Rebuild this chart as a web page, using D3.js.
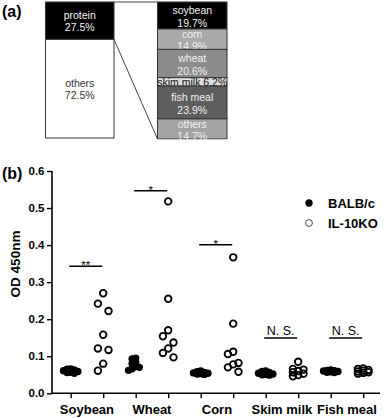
<!DOCTYPE html>
<html><head><meta charset="utf-8">
<script src="https://cdn.jsdelivr.net/npm/d3@7"></script>
<style>
html,body{margin:0;padding:0;background:#fff;}
svg{display:block;font-family:"Liberation Sans",Arial,sans-serif;}
</style></head>
<body><svg id="c" width="387" height="418"></svg>
<script>
// ---------- Panel (a) data ----------
const dietParts = ["protein", "others"];
const dietPct = [27.5, 72.5];
const proteinSources = ["soybean", "corn", "wheat", "skim milk", "fish meal", "others"];
const proteinPct = [19.7, 14.9, 20.6, 6.2, 23.9, 14.7];

// ---------- Panel (b) data ----------
const antigens = ["Soybean", "Wheat", "Corn", "Skim milk", "Fish meal"];
const strains = ["BALB/c", "IL-10KO"];
const balbValues = [
  [0.066, 0.065, 0.063, 0.061, 0.059, 0.057, 0.056, 0.054],
  [0.095, 0.093, 0.083, 0.080, 0.072, 0.070, 0.066, 0.062],
  [0.060, 0.058, 0.056, 0.055, 0.054, 0.053, 0.052, 0.051],
  [0.060, 0.059, 0.056, 0.054, 0.052, 0.051, 0.050, 0.049],
  [0.063, 0.062, 0.061, 0.060, 0.059, 0.058, 0.057, 0.056]
];
const il10Values = [
  [0.270, 0.242, 0.222, 0.158, 0.121, 0.117, 0.080, 0.061],
  [0.518, 0.255, 0.170, 0.154, 0.137, 0.121, 0.109, 0.097],
  [0.367, 0.188, 0.112, 0.106, 0.082, 0.078, 0.070, 0.058],
  [0.085, 0.066, 0.064, 0.060, 0.057, 0.053, 0.049, 0.046],
  [0.067, 0.066, 0.063, 0.061, 0.059, 0.057, 0.055, 0.053]
];
const sigLabels = ["**", "*", "*", "N. S.", "N. S."];
const sigLevels = [0.343, 0.547, 0.401, 0.149, 0.149];
const yTicks = [0.0, 0.1, 0.2, 0.3, 0.4, 0.5, 0.6];

const svg = d3.select("#c");

// ================= Panel (a) =================
const aFill = ["#000000", "#ffffff"];
const srcFill = ["#000000", "#a9a9a9", "#8c8c8c", "#dedede", "#5e5e5e", "#a3a3a3"];
const srcText = ["#f2f2f2", "#f2f2f2", "#f2f2f2", "#111111", "#f2f2f2", "#f2f2f2"];

svg.append("text").attr("x", 2).attr("y", 17).attr("font-size", 16).attr("font-weight", "bold").text("(a)");

const Lx0 = 45.5, Lx1 = 114, Rx0 = 157.5, Rx1 = 227;
const yL = d3.scaleLinear().domain([0, 100]).range([2, 138]);
const yR = d3.scaleLinear().domain([0, 100]).range([2, 139]);

let cum = 0;
const leftSegs = dietPct.map((p, i) => { const s = {name: dietParts[i], pct: p, a: cum, b: cum + p, i}; cum += p; return s; });
cum = 0;
const rightSegs = proteinPct.map((p, i) => { const s = {name: proteinSources[i], pct: p, a: cum, b: cum + p, i}; cum += p; return s; });

const gA = svg.append("g");
leftSegs.forEach(s => {
  gA.append("rect").attr("x", Lx0).attr("y", yL(s.a)).attr("width", Lx1 - Lx0).attr("height", yL(s.b) - yL(s.a))
    .attr("fill", aFill[s.i]).attr("stroke", "#333").attr("stroke-width", 1);
  const cy = (yL(s.a) + yL(s.b)) / 2;
  const col = s.i === 0 ? "#f2f2f2" : "#333";
  gA.append("text").attr("x", (Lx0 + Lx1) / 2).attr("y", cy - 6 + 4).attr("text-anchor", "middle")
    .attr("font-size", 10.5).attr("fill", col).text(s.name);
  gA.append("text").attr("x", (Lx0 + Lx1) / 2).attr("y", cy + 6 + 4).attr("text-anchor", "middle")
    .attr("font-size", 10.5).attr("fill", col).text(s.pct.toFixed(1) + "%");
});

// connector lines
gA.append("line").attr("x1", Lx1).attr("y1", yL(0)).attr("x2", Rx0).attr("y2", yR(0)).attr("stroke", "#444").attr("stroke-width", 1);
gA.append("line").attr("x1", Lx1).attr("y1", yL(dietPct[0])).attr("x2", Rx0).attr("y2", yR(100)).attr("stroke", "#444").attr("stroke-width", 1);

const defs = svg.append("defs");
defs.append("clipPath").attr("id", "rclip").append("rect")
  .attr("x", Rx0 - 1).attr("y", yR(0) - 1).attr("width", Rx1 - Rx0 + 6).attr("height", yR(100) - yR(0) + 1.5);
const gR = gA.append("g").attr("clip-path", "url(#rclip)");
rightSegs.forEach(s => {
  const t = yR(s.a), b = yR(s.b), cy = (t + b) / 2;
  gR.append("rect").attr("x", Rx0).attr("y", t).attr("width", Rx1 - Rx0).attr("height", b - t)
    .attr("fill", srcFill[s.i]).attr("stroke", "#333").attr("stroke-width", 1);
  const cx = (Rx0 + Rx1) / 2;
  if (s.pct < 10) {
    gR.append("text").attr("x", cx).attr("y", cy + 4).attr("text-anchor", "middle")
      .attr("font-size", 10.5).attr("fill", srcText[s.i]).text(s.name + " " + s.pct.toFixed(1) + "%");
  } else {
    gR.append("text").attr("x", cx).attr("y", cy - 5.3 + 4).attr("text-anchor", "middle")
      .attr("font-size", 10.5).attr("fill", srcText[s.i]).text(s.name);
    gR.append("text").attr("x", cx).attr("y", cy + 7.2 + 4).attr("text-anchor", "middle")
      .attr("font-size", 10.5).attr("fill", srcText[s.i]).text(s.pct.toFixed(1) + "%");
  }
});

// ================= Panel (b) =================
svg.append("text").attr("x", 2).attr("y", 179).attr("font-size", 16).attr("font-weight", "bold").text("(b)");

const keys = [];
antigens.forEach(a => strains.forEach(s => keys.push(a + "|" + s)));
const x = d3.scalePoint().domain(keys).range([70.7, 363.2]);
const y = d3.scaleLinear().domain([0, 0.6]).range([393.3, 171]);
const axisX0 = 52, axisX1 = 380;

// Y axis
const yAxis = d3.axisLeft(y).tickValues(yTicks).tickFormat(d3.format(".1f")).tickSize(5).tickSizeOuter(0);
const gy = svg.append("g").attr("transform", `translate(${axisX0},0)`).call(yAxis);
gy.select(".domain").attr("stroke", "#000").attr("stroke-width", 1.6).attr("d", `M0,${y(0)}V${y(0.6)}`);
gy.selectAll(".tick line").attr("stroke", "#000").attr("stroke-width", 1.4);
gy.selectAll(".tick text").attr("font-size", 11.5).attr("font-weight", "bold").attr("fill", "#000")
  .attr("font-family", '"Liberation Sans",Arial,sans-serif').attr("x", -7.5);

// X axis
const xAxis = d3.axisBottom(x).tickSize(5).tickFormat("").tickSizeOuter(0);
const gx = svg.append("g").attr("transform", `translate(0,${y(0)})`).call(xAxis);
gx.select(".domain").attr("stroke", "#000").attr("stroke-width", 1.6).attr("d", `M${axisX0},0H${axisX1}`);
gx.selectAll(".tick line").attr("stroke", "#000").attr("stroke-width", 1.4);

antigens.forEach(a => {
  const cx = (x(a + "|" + strains[0]) + x(a + "|" + strains[1])) / 2;
  svg.append("text").attr("x", cx).attr("y", 414).attr("text-anchor", "middle")
    .attr("font-size", 13).attr("font-weight", "bold").text(a);
});

svg.append("text").attr("transform", "translate(19.5,264) rotate(-90)").attr("text-anchor", "middle")
  .attr("font-size", 13.5).attr("font-weight", "bold").text("OD 450nm");

// swarm layout: offsets computed from values
function swarm(values, step, H, maxCol) {
  const order = values.map((v, i) => i).sort((a, b) => values[b] - values[a]);
  const cands = [0];
  for (let k = 1; k <= maxCol; k++) { cands.push(-k, k); }
  const placed = [];
  const off = new Array(values.length).fill(0);
  order.forEach(i => {
    const py = y(values[i]);
    let best = null, bestGap = -1;
    for (const c of cands) {
      const same = placed.filter(p => p.c === c);
      const gap = same.length ? d3.min(same, p => Math.abs(p.py - py)) : Infinity;
      if (gap >= H) { best = c; break; }
      if (gap > bestGap) { bestGap = gap; best = c; }
    }
    placed.push({c: best, py});
    off[i] = best * step;
  });
  return off;
}

const gDots = svg.append("g");
antigens.forEach((a, ai) => {
  const xb = x(a + "|" + strains[0]);
  const ob = swarm(balbValues[ai], 3.6, 4, 2);
  gDots.selectAll(null).data(balbValues[ai]).enter().append("circle")
    .attr("cx", (d, i) => xb + ob[i]).attr("cy", d => y(d)).attr("r", 3.7).attr("fill", "#000");
  const xi = x(a + "|" + strains[1]);
  const oi = swarm(il10Values[ai], 5.3, 19, 1);
  gDots.selectAll(null).data(il10Values[ai]).enter().append("circle")
    .attr("cx", (d, i) => xi + oi[i]).attr("cy", d => y(d)).attr("r", 3.3)
    .attr("fill", "none").attr("stroke", "#000").attr("stroke-width", 1.8);
});

// significance bars
antigens.forEach((a, ai) => {
  const x1 = x(a + "|" + strains[0]) - 1.5, x2 = x(a + "|" + strains[1]) - 1;
  const ly = y(sigLevels[ai]);
  svg.append("line").attr("x1", x1).attr("x2", x2).attr("y1", ly).attr("y2", ly).attr("stroke", "#000").attr("stroke-width", 1.5);
  const isNS = sigLabels[ai].indexOf("N") >= 0;
  svg.append("text").attr("x", (x1 + x2) / 2).attr("y", isNS ? ly - 3.5 : ly + 3)
    .attr("text-anchor", "middle").attr("font-size", isNS ? 12.5 : 11.5).text(sigLabels[ai]);
});

// legend
const legY = [203, 223];
svg.append("circle").attr("cx", 309).attr("cy", legY[0]).attr("r", 3.7).attr("fill", "#000");
svg.append("circle").attr("cx", 309).attr("cy", legY[1]).attr("r", 3.4).attr("fill", "none").attr("stroke", "#444").attr("stroke-width", 1);
strains.forEach((s, i) => {
  svg.append("text").attr("x", 328).attr("y", legY[i] + 4.5).attr("font-size", 13).attr("font-weight", "bold").text(s);
});
</script></body></html>
